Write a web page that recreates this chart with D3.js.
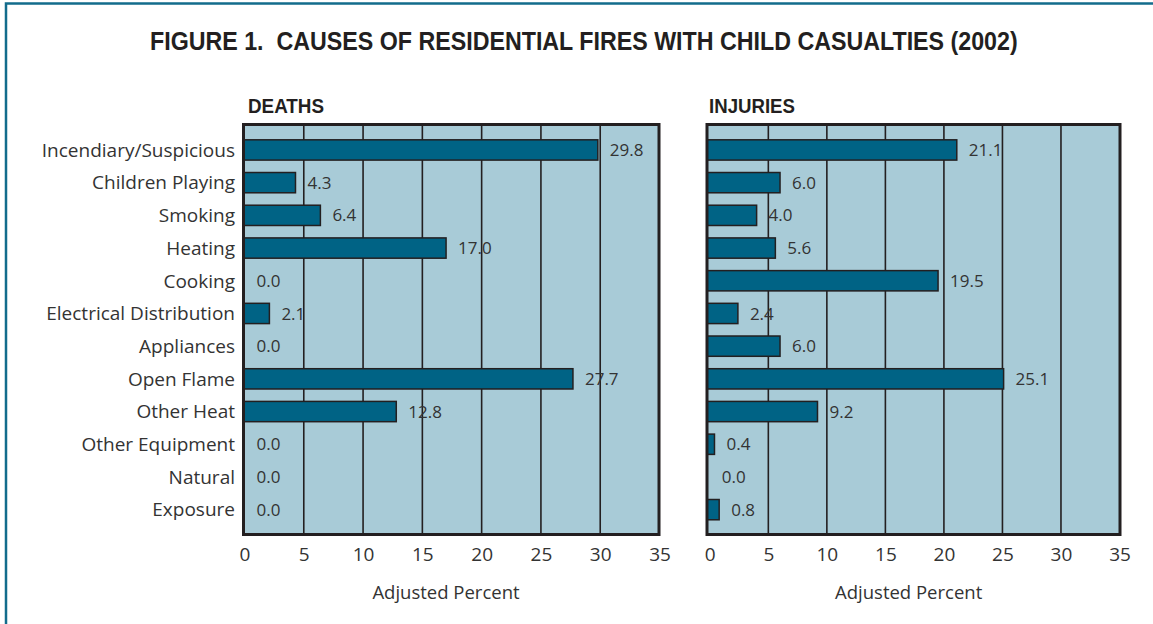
<!DOCTYPE html>
<html><head><meta charset="utf-8">
<script src="https://cdn.jsdelivr.net/npm/d3@7/dist/d3.min.js"></script>
<style>
html,body{margin:0;padding:0;background:#fff;}
svg{display:block;}
</style></head>
<body>
<svg id="chart" width="1153" height="624"></svg>
<script>
const categories = ["Incendiary/Suspicious","Children Playing","Smoking","Heating","Cooking","Electrical Distribution","Appliances","Open Flame","Other Heat","Other Equipment","Natural","Exposure"];
const deaths = [29.8,4.3,6.4,17.0,0.0,2.1,0.0,27.7,12.8,0.0,0.0,0.0];
const injuries = [21.1,6.0,4.0,5.6,19.5,2.4,6.0,25.1,9.2,0.4,0.0,0.8];
const ticks = [0,5,10,15,20,25,30,35];
const title = "FIGURE 1.  CAUSES OF RESIDENTIAL FIRES WITH CHILD CASUALTIES (2002)";
const panelTitles = ["DEATHS","INJURIES"];
const axisTitle = "Adjusted Percent";

const svg = d3.select("#chart");
const BAR = "#006385", BG = "#a8cbd7", INK = "#231f20", FRAME = "#136c8c";
const condensed = "'Liberation Sans',Arial,sans-serif";
const regular = "'Open Sans','Liberation Sans',Arial,sans-serif";

// outer frame
svg.append("rect").attr("x",6).attr("y",3.5).attr("width",1200).attr("height",700)
  .attr("fill","none").attr("stroke",FRAME).attr("stroke-width",2.5);

// condensed bold text helper: scale horizontally to a target width
function narrowText(x, yb, size, str, targetW, anchor) {
  const t = svg.append("text").attr("x",0).attr("y",0)
    .attr("font-family",condensed).attr("font-weight","bold").attr("font-size",size)
    .attr("fill",INK).style("white-space","pre").text(str);
  const w = t.node().getComputedTextLength();
  const s = targetW / w;
  const x0 = anchor === "middle" ? x - targetW/2 : x;
  t.attr("transform",`translate(${x0},${yb}) scale(${s},1)`);
  return t;
}
narrowText(584, 50, 25, title, 868, "middle");

const y = d3.scaleBand().domain(categories).range([133.6,526]).paddingInner(0.38).paddingOuter(0.19);

const panels = [
  {name:panelTitles[0], data:deaths, x0:244.5, x1:659.5, left:243.5, right:659, tx:248, tw:76},
  {name:panelTitles[1], data:injuries, x0:709.8, x1:1119.5, left:707, right:1120, tx:709, tw:86}
];
const pTop = 124.5, pBottom = 534.5;

panels.forEach(p => {
  const x = d3.scaleLinear().domain([0,35]).range([p.x0,p.x1]);
  const g = svg.append("g");
  g.append("rect").attr("x",p.left).attr("y",pTop).attr("width",p.right-p.left).attr("height",pBottom-pTop)
    .attr("fill",BG);
  g.selectAll("line.grid").data(ticks.filter(t=>t>0 && t<35)).join("line")
    .attr("x1",d=>x(d)).attr("x2",d=>x(d)).attr("y1",pTop).attr("y2",pBottom)
    .attr("stroke",INK).attr("stroke-width",1.6);
  g.selectAll("rect.bar").data(p.data.map((v,i)=>({v,c:categories[i]})).filter(d=>d.v>0)).join("rect")
    .attr("x",p.left).attr("y",d=>y(d.c)).attr("width",d=>x(d.v)-p.left).attr("height",y.bandwidth())
    .attr("fill",BAR).attr("stroke",INK).attr("stroke-width",1.5);
  g.selectAll("text.val").data(p.data.map((v,i)=>({v,c:categories[i]}))).join("text")
    .attr("x",d=>x(d.v)+12).attr("y",d=>y(d.c)+y.bandwidth()/2).attr("dy","0.36em")
    .attr("font-family",regular).attr("font-size",17).attr("fill","#333")
    .text(d=>d3.format(".1f")(d.v));
  g.append("rect").attr("x",p.left).attr("y",pTop).attr("width",p.right-p.left).attr("height",pBottom-pTop)
    .attr("fill","none").attr("stroke",INK).attr("stroke-width",3);
  const ax = svg.append("g").attr("transform",`translate(0,${pBottom})`)
    .call(d3.axisBottom(x).tickValues(ticks).tickSize(0).tickPadding(13).tickFormat(d3.format("d")));
  ax.select(".domain").remove();
  ax.selectAll("text").attr("font-family",regular).attr("font-size",19).attr("fill","#333");
  svg.append("text").attr("x",(p.x0+p.x1)/2-6).attr("y",599).attr("text-anchor","middle")
    .attr("font-family",regular).attr("font-size",18.5).attr("fill","#333").text(axisTitle);
  narrowText(p.tx, 112.5, 20, p.name, p.tw, "start");
});

svg.selectAll("text.cat").data(categories).join("text")
  .attr("x",235).attr("y",d=>y(d)+y.bandwidth()/2).attr("dy","0.36em").attr("text-anchor","end")
  .attr("font-family",regular).attr("font-size",19).attr("fill","#333").text(d=>d);
</script>
</body></html>
